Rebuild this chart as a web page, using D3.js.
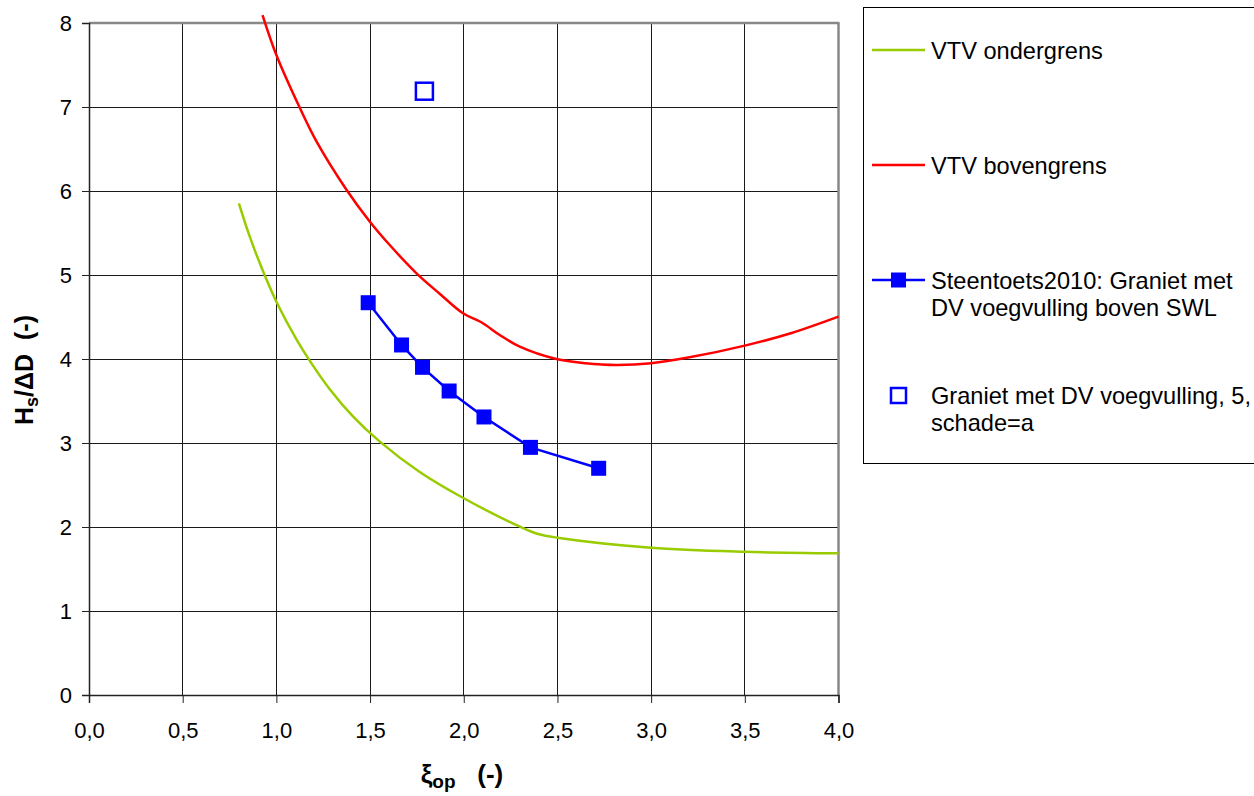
<!DOCTYPE html>
<html>
<head>
<meta charset="utf-8">
<script src="https://cdn.jsdelivr.net/npm/d3@7"></script>
<style>
  html, body { margin: 0; padding: 0; background: #fff; }
  svg { display: block; font-family: "Liberation Sans", Arial, sans-serif; }
</style>
</head>
<body>
<svg id="chart" width="1254" height="796"></svg>
<script>
// ---- data ----
const xTicks = [0, 0.5, 1.0, 1.5, 2.0, 2.5, 3.0, 3.5, 4.0];
const yTicks = [0, 1, 2, 3, 4, 5, 6, 7, 8];

const ondergrensX = [0.80, 0.859, 0.939, 1.0, 1.108, 1.175, 1.285, 1.41, 1.552, 1.765, 2.0, 2.3, 2.397, 2.5, 3.0, 3.5, 4.0];
const ondergrensY = [5.853, 5.45, 4.99, 4.682, 4.23, 3.99, 3.64, 3.313, 3.016, 2.655, 2.342, 2.004, 1.917, 1.873, 1.754, 1.706, 1.687];

const bovengrensX = [0.926, 1.0, 1.125, 1.214, 1.374, 1.499, 1.605, 1.748, 1.87, 1.996, 2.094, 2.192, 2.299, 2.494, 2.65, 2.814, 3.0, 3.205, 3.5, 3.75, 4.0];
const bovengrensY = [8.095, 7.619, 6.99, 6.59, 6.015, 5.635, 5.357, 5.02, 4.78, 4.544, 4.437, 4.286, 4.147, 4.0, 3.95, 3.929, 3.949, 4.02, 4.159, 4.31, 4.504];

const steentoetsX = [1.490, 1.668, 1.780, 1.922, 2.108, 2.356, 2.720];
const steentoetsY = [4.670, 4.167, 3.901, 3.619, 3.310, 2.948, 2.699];

const schadeX = [1.79];
const schadeY = [7.188];

const legendLabels = [
  ["VTV ondergrens"],
  ["VTV bovengrens"],
  ["Steentoets2010: Graniet met", "DV voegvulling boven SWL"],
  ["Graniet met DV voegvulling, 5,", "schade=a"]
];

// ---- drawing ----
const svg = d3.select("#chart");
const x = d3.scaleLinear().domain([0, 4]).range([89, 838.5]);
const y = d3.scaleLinear().domain([0, 8]).range([695, 23]);

const green = "#99CC00", red = "#FF0000", blue = "#0000FF";

// gridlines
const grid = svg.append("g").attr("shape-rendering", "crispEdges");
grid.selectAll("line.v").data(xTicks.filter(d => d > 0 && d < 4)).join("line")
  .attr("x1", d => x(d)).attr("x2", d => x(d))
  .attr("y1", y(0)).attr("y2", y(8))
  .attr("stroke", "#1a1a1a").attr("stroke-width", 1);
grid.selectAll("line.h").data(yTicks.filter(d => d > 0 && d < 8)).join("line")
  .attr("x1", x(0)).attr("x2", x(4))
  .attr("y1", d => y(d)).attr("y2", d => y(d))
  .attr("stroke", "#1a1a1a").attr("stroke-width", 1);

// plot border (top, right)
svg.append("line").attr("x1", x(0)).attr("x2", x(4) + 1).attr("y1", y(8)).attr("y2", y(8))
  .attr("stroke", "#888").attr("stroke-width", 2.5);
svg.append("line").attr("x1", x(4)).attr("x2", x(4)).attr("y1", y(8)).attr("y2", y(0))
  .attr("stroke", "#888").attr("stroke-width", 2.5);

// axes
const fmtX = d => d.toFixed(1).replace(".", ",");
const xAxis = svg.append("g").attr("transform", `translate(0,${y(0)})`)
  .call(d3.axisBottom(x).tickValues(xTicks).tickFormat(fmtX).tickSize(8).tickPadding(19));
const yAxis = svg.append("g").attr("transform", `translate(${x(0)},0)`)
  .call(d3.axisLeft(y).tickValues(yTicks).tickFormat(d3.format("d")).tickSize(7).tickPadding(10));
[xAxis, yAxis].forEach(a => {
  a.selectAll("path.domain").attr("stroke", "#222").attr("stroke-width", 1.5);
  a.selectAll(".tick line").attr("stroke", "#222");
  a.selectAll("text").attr("font-size", 22).attr("fill", "#000")
    .attr("font-family", "'Liberation Sans', Arial, sans-serif");
});

// lines
const line = d3.line().x(d => x(d[0])).y(d => y(d[1])).curve(d3.curveCatmullRom.alpha(0.5));
const zip = (a, b) => a.map((v, i) => [v, b[i]]);

svg.append("path").datum(zip(ondergrensX, ondergrensY))
  .attr("d", line).attr("fill", "none").attr("stroke", green).attr("stroke-width", 2.5);
svg.append("path").datum(zip(bovengrensX, bovengrensY))
  .attr("d", line).attr("fill", "none").attr("stroke", red).attr("stroke-width", 2.5);

const steen = zip(steentoetsX, steentoetsY);
svg.append("path").datum(steen)
  .attr("d", d3.line().x(d => x(d[0])).y(d => y(d[1])))
  .attr("fill", "none").attr("stroke", blue).attr("stroke-width", 2.5);
svg.selectAll("rect.steen").data(steen).join("rect")
  .attr("x", d => x(d[0]) - 7.5).attr("y", d => y(d[1]) - 7.5)
  .attr("width", 15).attr("height", 15).attr("fill", blue);

svg.selectAll("rect.schade").data(zip(schadeX, schadeY)).join("rect")
  .attr("x", d => x(d[0]) - 8.5).attr("y", d => y(d[1]) - 8.5)
  .attr("width", 17).attr("height", 17).attr("fill", "none")
  .attr("stroke", blue).attr("stroke-width", 2.5);

// legend
const lg = svg.append("g");
lg.append("rect").attr("x", 863.5).attr("y", 7.5).attr("width", 400).attr("height", 456)
  .attr("fill", "#fff").attr("stroke", "#000").attr("stroke-width", 1);
const entryY = [50, 165, 280, 395];
const styles = [
  { stroke: green, marker: null },
  { stroke: red, marker: null },
  { stroke: blue, marker: "filled" },
  { stroke: null, marker: "open" }
];
legendLabels.forEach((lines, i) => {
  const cy = entryY[i];
  const s = styles[i];
  if (s.stroke) lg.append("line").attr("x1", 872).attr("x2", 925).attr("y1", cy).attr("y2", cy)
    .attr("stroke", s.stroke).attr("stroke-width", 2.5);
  if (s.marker === "filled") lg.append("rect").attr("x", 891).attr("y", cy - 7.5).attr("width", 15).attr("height", 15).attr("fill", blue);
  if (s.marker === "open") lg.append("rect").attr("x", 891).attr("y", cy - 7).attr("width", 15).attr("height", 15)
    .attr("fill", "none").attr("stroke", blue).attr("stroke-width", 2.5);
  const t = lg.append("text").attr("x", 931).attr("y", cy + 8.5).attr("font-size", 23.6).attr("fill", "#000");
  lines.forEach((l, j) => t.append("tspan").attr("x", 931).attr("dy", j === 0 ? 0 : 27).text(l));
});

// axis titles
const xt = svg.append("text").attr("x", 462).attr("y", 783).attr("text-anchor", "middle")
  .attr("font-size", 26).attr("font-weight", "bold").attr("xml:space", "preserve");
xt.append("tspan").text("ξ");
xt.append("tspan").attr("font-size", 19).attr("dy", 5).text("op");
xt.append("tspan").attr("dy", -5).text("   (-)");

const yt = svg.append("text").attr("transform", "translate(33,370) rotate(-90)")
  .attr("text-anchor", "middle").attr("font-size", 25).attr("font-weight", "bold")
  .attr("xml:space", "preserve");
yt.append("tspan").text("H");
yt.append("tspan").attr("font-size", 18).attr("dy", 5).text("s");
yt.append("tspan").attr("dy", -5).text("/ΔD  (-)");
</script>
</body>
</html>
